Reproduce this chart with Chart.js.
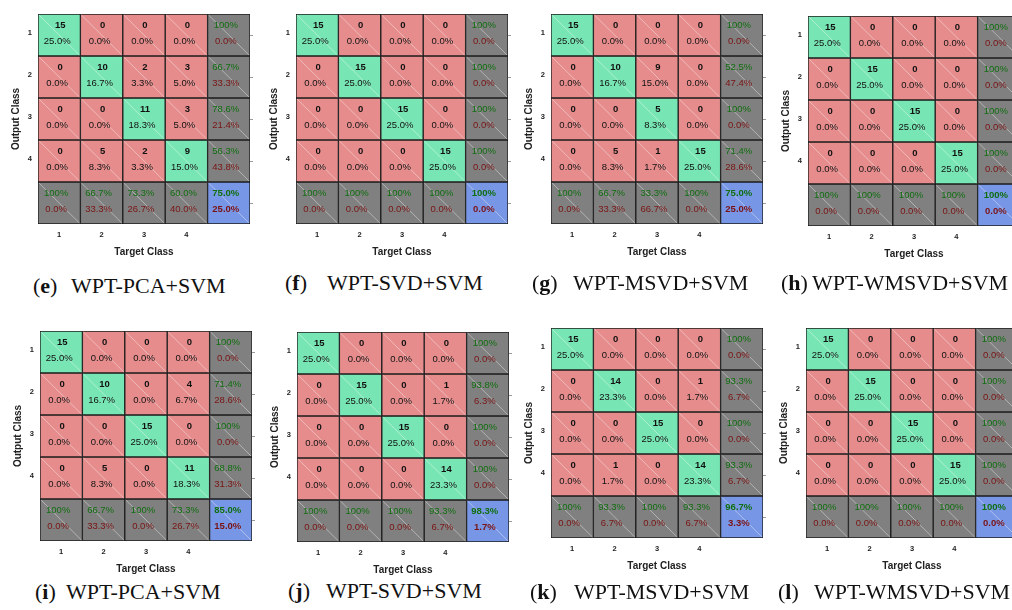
<!DOCTYPE html>
<html>
<head>
<meta charset="utf-8">
<script src="https://cdn.jsdelivr.net/npm/chart.js@4.4.0/dist/chart.umd.min.js"></script>
<style>
  html, body { margin: 0; padding: 0; background: #fff; }
  body { width: 1012px; height: 610px; position: relative; overflow: hidden; }
  canvas { position: absolute; }
  .cap { position: absolute; font-family: 'Liberation Serif', 'Times New Roman', serif; font-size: 22px; line-height: 22px; color: #111; white-space: nowrap; }
</style>
</head>
<body>
<script>
// ---- data ----
const classLabels = ['1', '2', '3', '4'];
const panelLetters = ['e', 'f', 'g', 'h', 'i', 'j', 'k', 'l'];
const methodNames = ['WPT-PCA+SVM', 'WPT-SVD+SVM', 'WPT-MSVD+SVM', 'WPT-WMSVD+SVM',
                     'WPT-PCA+SVM', 'WPT-SVD+SVM', 'WPT-MSVD+SVM', 'WPT-WMSVD+SVM'];

// rows = output class, columns = target class
const countsE = [[15, 0, 0, 0], [0, 10, 2, 3], [0, 0, 11, 3], [0, 5, 2, 9]];
const countsF = [[15, 0, 0, 0], [0, 15, 0, 0], [0, 0, 15, 0], [0, 0, 0, 15]];
const countsG = [[15, 0, 0, 0], [0, 10, 9, 0], [0, 0, 5, 0], [0, 5, 1, 15]];
const countsH = [[15, 0, 0, 0], [0, 15, 0, 0], [0, 0, 15, 0], [0, 0, 0, 15]];
const countsI = [[15, 0, 0, 0], [0, 10, 0, 4], [0, 0, 15, 0], [0, 5, 0, 11]];
const countsJ = [[15, 0, 0, 0], [0, 15, 0, 1], [0, 0, 15, 0], [0, 0, 0, 14]];
const countsK = [[15, 0, 0, 0], [0, 14, 0, 1], [0, 0, 15, 0], [0, 1, 0, 14]];
const countsL = [[15, 0, 0, 0], [0, 15, 0, 0], [0, 0, 15, 0], [0, 0, 0, 15]];
const allCounts = [countsE, countsF, countsG, countsH, countsI, countsJ, countsK, countsL];

// right column (per output class), as printed
const rowAcc = [
  [100, 66.7, 78.6, 56.3], [100, 100, 100, 100], [100, 52.5, 100, 71.4], [100, 100, 100, 100],
  [100, 71.4, 100, 68.8], [100, 93.8, 100, 100], [100, 93.3, 100, 93.3], [100, 100, 100, 100]
];
const rowErr = [
  [0, 33.3, 21.4, 43.8], [0, 0, 0, 0], [0, 47.4, 0, 28.6], [0, 0, 0, 0],
  [0, 28.6, 0, 31.3], [0, 6.3, 0, 0], [0, 6.7, 0, 6.7], [0, 0, 0, 0]
];
// bottom row (per target class), as printed
const colAcc = [
  [100, 66.7, 73.3, 60.0], [100, 100, 100, 100], [100, 66.7, 33.3, 100], [100, 100, 100, 100],
  [100, 66.7, 100, 73.3], [100, 100, 100, 93.3], [100, 93.3, 100, 93.3], [100, 100, 100, 100]
];
const colErr = [
  [0, 33.3, 26.7, 40.0], [0, 0, 0, 0], [0, 33.3, 66.7, 0], [0, 0, 0, 0],
  [0, 33.3, 0, 26.7], [0, 0, 0, 6.7], [0, 6.7, 0, 6.7], [0, 0, 0, 0]
];
const overallAcc = [75.0, 100, 75.0, 100, 85.0, 98.3, 96.7, 100];
const overallErr = [25.0, 0, 25.0, 0, 15.0, 1.7, 3.3, 0];

// ---- layout (canvas origin, caption label x, caption name x, caption top) ----
const panelLayout = [
  { x: 0,   y: 0,   lx: 33,  nx: 71,  cy: 275 },
  { x: 258, y: 0,   lx: 285, nx: 327, cy: 272 },
  { x: 513, y: 0,   lx: 532, nx: 573, cy: 272 },
  { x: 770, y: 2,   lx: 781, nx: 812, cy: 272 },
  { x: 2,   y: 317, lx: 35,  nx: 66,  cy: 581 },
  { x: 259, y: 318, lx: 288, nx: 326, cy: 580 },
  { x: 513, y: 314, lx: 530, nx: 574, cy: 581 },
  { x: 768, y: 314, lx: 778, nx: 814, cy: 581 }
];

const GREEN = '#78e6b4', RED = '#e68c8c', GRAY = '#808080', BLUE = '#7896e6';
const TXT_GREEN = '#0f6e0f', TXT_RED = '#7a1212';
const sans = "'Liberation Sans', Arial, sans-serif";

function fmt(v) { return v === 100 ? '100%' : v.toFixed(1) + '%'; }

function cellColor(r, c) {
  if (r === 4 && c === 4) return BLUE;
  if (r === 4 || c === 4) return GRAY;
  return r === c ? GREEN : RED;
}

function buildPanel(p) {
  const lay = panelLayout[p];
  const counts = allCounts[p];
  const total = counts.flat().reduce((a, b) => a + b, 0);

  const canvas = document.createElement('canvas');
  canvas.width = 256;
  canvas.height = 258;
  canvas.style.left = lay.x + 'px';
  canvas.style.top = lay.y + 'px';
  document.body.appendChild(canvas);

  const cols = classLabels.concat(['']);
  // one stacked dataset per output-class row (plus the summary row)
  const datasets = [0, 1, 2, 3, 4].map(r => ({
    label: 'row ' + (r + 1),
    data: cols.map(() => 1),
    backgroundColor: cols.map((_, c) => cellColor(r, c)),
    borderColor: '#1c1c1c',
    borderWidth: 1,
    borderSkipped: false,
    barPercentage: 1,
    categoryPercentage: 1
  }));

  const cellText = {
    id: 'cellText',
    afterDatasetsDraw(chart) {
      const ctx = chart.ctx;
      chart.data.datasets.forEach((ds, r) => {
        chart.getDatasetMeta(r).data.forEach((bar, c) => {
          const { x, y, base, width } = bar.getProps(['x', 'y', 'base', 'width'], true);
          const top = Math.min(y, base), bottom = Math.max(y, base);
          const left = x - width / 2, right = x + width / 2;
          const h = bottom - top;
          ctx.save();
          ctx.strokeStyle = 'rgba(255,255,255,0.5)';
          ctx.lineWidth = 0.8;
          ctx.beginPath();
          ctx.moveTo(left + 1, top + 1);
          ctx.lineTo(right - 1, bottom - 1);
          ctx.stroke();

          ctx.textAlign = 'center';
          ctx.textBaseline = 'middle';
          const y1 = top + h * 0.28, y2 = top + h * 0.64;
          let t1, t2, bold = false;
          if (r < 4 && c < 4) {
            t1 = String(counts[r][c]);
            t2 = (counts[r][c] / total * 100).toFixed(1) + '%';
            ctx.fillStyle = '#111';
            ctx.font = 'bold 9.5px ' + sans;
            ctx.fillText(t1, x + 1, y1);
            ctx.font = '9.5px ' + sans;
            ctx.fillText(t2, x - 2, y2);
          } else {
            if (r === 4 && c === 4) {
              t1 = fmt(overallAcc[p]); t2 = fmt(overallErr[p]); bold = true;
            } else if (c === 4) {
              t1 = fmt(rowAcc[p][r]); t2 = fmt(rowErr[p][r]);
            } else {
              t1 = fmt(colAcc[p][c]); t2 = fmt(colErr[p][c]);
            }
            ctx.font = (bold ? 'bold ' : '') + '9.5px ' + sans;
            ctx.fillStyle = TXT_GREEN;
            ctx.fillText(t1, x - 3, y1);
            ctx.fillStyle = TXT_RED;
            ctx.fillText(t2, x - 3, y2);
          }
          ctx.restore();
        });
      });
    }
  };

  new Chart(canvas, {
    type: 'bar',
    data: { labels: cols, datasets: datasets },
    options: {
      responsive: false,
      animation: false,
      events: [],
      layout: { padding: { left: 10, top: 14, right: 0, bottom: 0 } },
      plugins: { legend: { display: false }, tooltip: { enabled: false } },
      scales: {
        x: {
          stacked: true,
          grid: { display: false, drawTicks: false },
          border: { display: false },
          ticks: { color: '#222', padding: 6, font: { family: sans, size: 7.5, weight: 'bold' } },
          title: { display: true, text: 'Target Class', color: '#222', padding: 0,
                   font: { family: sans, size: 10, weight: 'bold' } },
          afterFit: s => { s.height = 34; }
        },
        y: {
          stacked: true,
          min: 0, max: 5, reverse: true,
          grid: { display: false, drawTicks: false },
          border: { display: false },
          afterBuildTicks: s => { s.ticks = [0.5, 1.5, 2.5, 3.5].map(v => ({ value: v })); },
          ticks: {
            color: '#222', padding: 6, labelOffset: -2,
            font: { family: sans, size: 7.5, weight: 'bold' },
            callback: (v, i) => classLabels[i]
          },
          title: { display: true, text: 'Output Class', color: '#222', padding: 0,
                   font: { family: sans, size: 10, weight: 'bold' } },
          afterFit: s => { s.width = 28; }
        },
        yRight: {
          position: 'right',
          min: 0, max: 5, reverse: true,
          afterBuildTicks: s => { s.ticks = [0.5, 1.5, 2.5, 3.5, 4.5].map(v => ({ value: v })); },
          grid: { drawOnChartArea: false, drawTicks: true, tickLength: 3, color: '#9a9a9a' },
          border: { display: false },
          ticks: { callback: () => '' },
          afterFit: s => { s.width = 6; }
        }
      }
    },
    plugins: [cellText]
  });

  const lab = document.createElement('div');
  lab.className = 'cap';
  lab.style.left = lay.lx + 'px';
  lab.style.top = lay.cy + 'px';
  lab.innerHTML = '(<b>' + panelLetters[p] + '</b>)';
  document.body.appendChild(lab);

  const name = document.createElement('div');
  name.className = 'cap';
  name.style.left = lay.nx + 'px';
  name.style.top = lay.cy + 'px';
  name.textContent = methodNames[p];
  document.body.appendChild(name);
}

for (let p = 0; p < panelLetters.length; p++) buildPanel(p);
</script>
</body>
</html>
